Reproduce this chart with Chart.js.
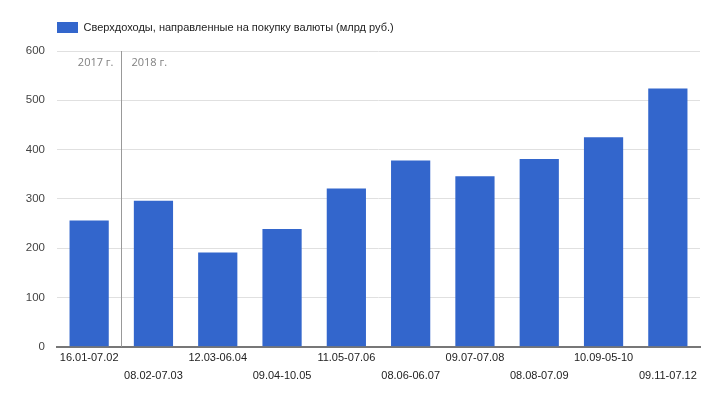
<!DOCTYPE html>
<html lang="ru">
<head>
<meta charset="UTF-8">
<title>Сверхдоходы</title>
<script src="https://cdn.jsdelivr.net/npm/chart.js"></script>
<style>
  body { margin: 0; background: #fff; }
  #wrap { width: 720px; height: 403px; position: relative; }
</style>
</head>
<body>
<div id="wrap"><canvas id="grafico"></canvas></div>
<script>
  const periodos = ["16.01-07.02", "08.02-07.03", "12.03-06.04", "09.04-10.05", "11.05-07.06",
                    "08.06-06.07", "09.07-07.08", "08.08-07.09", "10.09-05-10", "09.11-07.12"];
  const valores = [256, 296, 191, 239, 321, 378, 346, 381, 425, 524];
  const rotuloSerie = "Сверхдоходы, направленные на покупку валюты (млрд руб.)";
  const anos = ["2017 г.", "2018 г."];
  const ticksY = [0, 100, 200, 300, 400, 500, 600];

  // rótulos alternados em duas linhas
  const rotulos = periodos.map((p, i) => i % 2 ? ["", p] : [p, ""]);

  const fonteTexto = { family: "'Liberation Sans', Arial", size: 11, lineHeight: 1.65 };

  // legenda alinhada com a área do gráfico
  const ajusteLegenda = {
    id: "ajusteLegenda",
    afterLayout(chart) {
      chart.legend.left = chart.chartArea.left - 12;
      chart.legend.top -= 8;
    }
  };

  const divisaoAno = {
    id: "divisaoAno",
    afterDatasetsDraw(chart) {
      const { ctx, chartArea, scales } = chart;
      const x = Math.round(scales.x.getPixelForValue(0.5)) + 0.5;
      ctx.save();
      ctx.strokeStyle = "#999";
      ctx.lineWidth = 1;
      ctx.beginPath();
      ctx.moveTo(x, chartArea.top);
      ctx.lineTo(x, chartArea.bottom);
      ctx.stroke();
      ctx.font = "11px 'Open Sans'";
      ctx.fillStyle = "#808080";
      ctx.textBaseline = "middle";
      ctx.textAlign = "right";
      ctx.fillText(anos[0], x - 8, chartArea.top + 12);
      ctx.textAlign = "left";
      ctx.fillText(anos[1], x + 10, chartArea.top + 12);
      ctx.restore();
    }
  };

  new Chart(document.getElementById("grafico"), {
    type: "bar",
    data: {
      labels: rotulos,
      datasets: [{
        label: rotuloSerie,
        data: valores,
        backgroundColor: "#3366cc",
        borderColor: "#3366cc",
        borderWidth: 0,
        barPercentage: 0.61,
        categoryPercentage: 1
      }]
    },
    options: {
      responsive: true,
      maintainAspectRatio: false,
      animation: false,
      layout: { padding: { left: 0, right: 20, top: 18, bottom: 16 } },
      plugins: {
        legend: {
          align: "start",
          labels: {
            boxWidth: 21,
            boxHeight: 11,
            color: "#222",
            font: { family: "'Liberation Sans', Arial", size: 11 },
            padding: 12
          }
        },
        tooltip: { enabled: false }
      },
      scales: {
        x: {
          grid: { display: false, drawTicks: false },
          border: { color: "#777", width: 2 },
          ticks: {
            autoSkip: false,
            maxRotation: 0,
            padding: 2,
            color: "#222",
            font: fonteTexto
          }
        },
        y: {
          min: 0,
          max: 600,
          afterBuildTicks(axis) { axis.ticks = ticksY.map(v => ({ value: v })); },
          afterFit(axis) { axis.width = 57; },
          grid: { color: "#e0e0e0", drawTicks: false },
          border: { display: false },
          ticks: {
            padding: 12,
            color: "#444",
            font: { family: "'Liberation Sans', Arial", size: 11.5 }
          }
        }
      }
    },
    plugins: [ajusteLegenda, divisaoAno]
  });
</script>
</body>
</html>
